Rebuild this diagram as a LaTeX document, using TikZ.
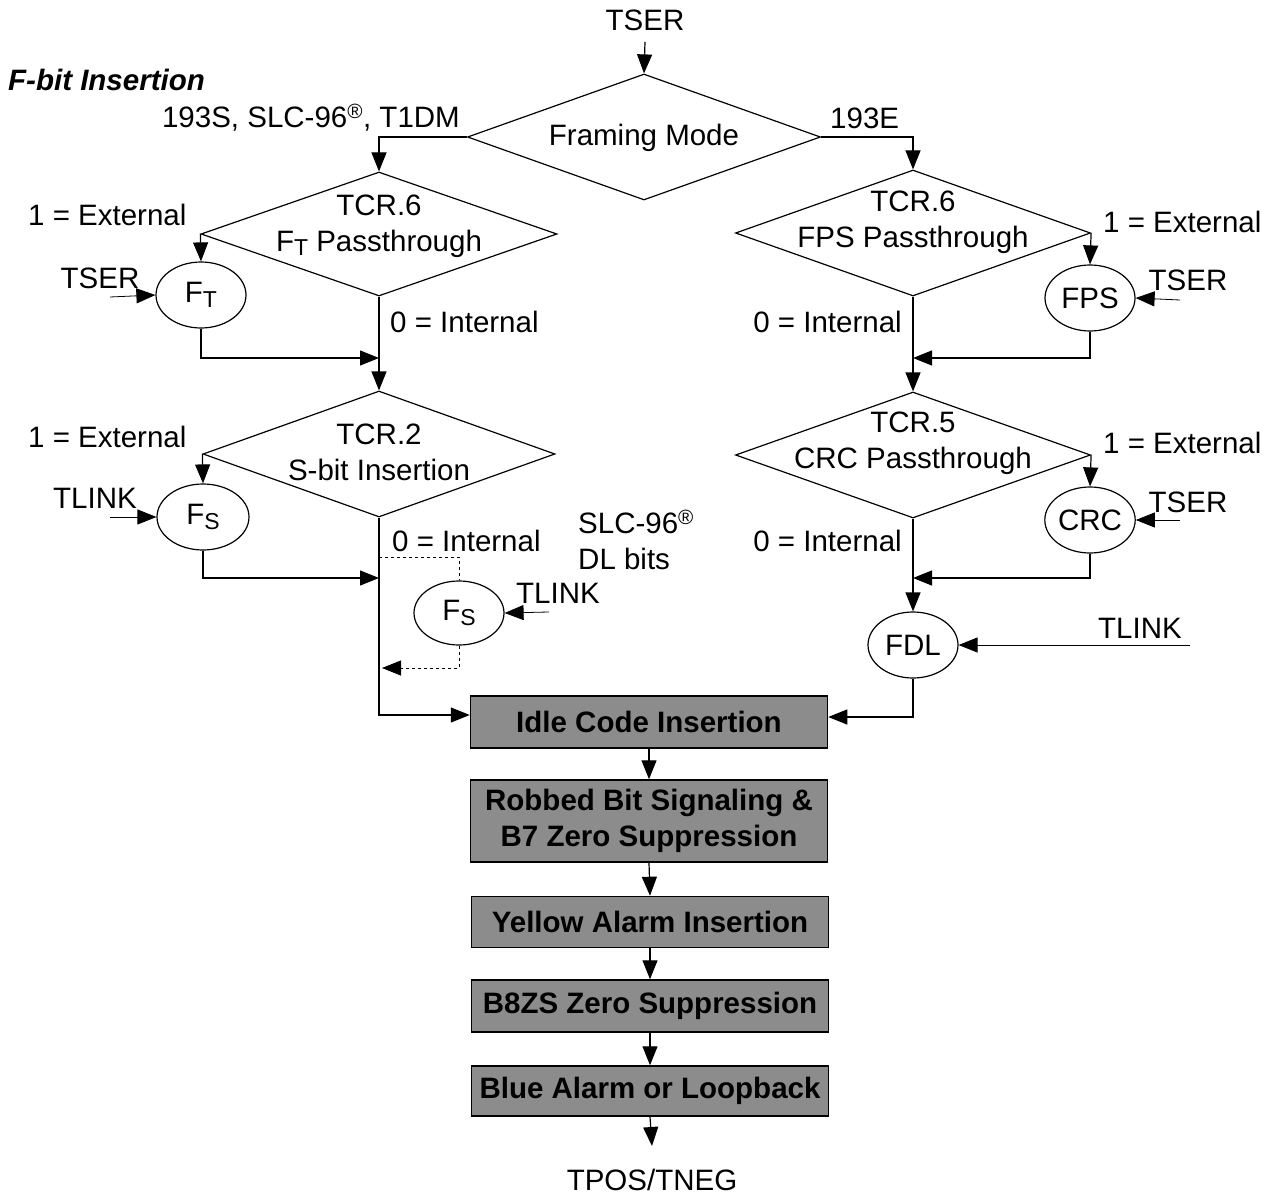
\documentclass[tikz,border=0pt]{standalone}
\usepackage{fontspec}
\setmainfont{Liberation Sans}
\usetikzlibrary{shapes.geometric,arrows.meta}
\newcommand{\fsz}{\fontsize{29.5}{36}\selectfont}
\newcommand{\lowsub}[1]{\raisebox{-0.3ex}{\fontsize{23}{23}\selectfont #1}}
\begin{document}
\begin{tikzpicture}[x=1pt,y=-1pt,
  every node/.style={font=\fsz},
  txt/.style={inner sep=2pt, align=center},
  dia/.style={draw, diamond, line width=1.2pt, inner sep=0pt},
  ell/.style={draw, ellipse, line width=1.2pt, inner sep=0pt, minimum width=90pt, minimum height=66pt},
  gbox/.style={draw, line width=1.5pt, fill=black!45, minimum width=357pt, align=center, inner sep=0pt, font=\fsz\bfseries},
  arr/.style={-{Triangle[length=19pt,width=15pt]}, line width=1.2pt},
  thinarr/.style={-{Triangle[length=19pt,width=15pt]}, line width=0.8pt},
  ln/.style={line width=1.2pt}]
\useasboundingbox (0,0) rectangle (1277,1198);

% title
\node[txt, anchor=west, font=\fsz\bfseries\itshape] (title) at (6,80) {F-bit Insertion};

% top
\node[txt] (tser0) at (645,20) {TSER};
\node[dia, minimum width=353pt, minimum height=126pt] (fm) at (644,137) {};
\node[txt] (fmt) at (644,138) {Framing Mode};
\node[txt, anchor=east] (lab193s) at (462,118) {193S, SLC-96\textsuperscript{\textregistered}, T1DM};
\node[txt, anchor=west] (lab193e) at (828,118) {193E};
\coordinate (tserstart) at (645,42);
\draw[arr] (tserstart) -- (fm.north);

% left TCR.6
\node[dia, minimum width=356pt, minimum height=124pt] (l6) at (379,234) {};
\node[txt] (l6t) at (379,226) {TCR.6\\F\lowsub{T}\ Passthrough};
\draw[arr] (fm.west) -| (l6.north);
\node[ell] (ft) at (201,295) {F\lowsub{T}};
\node[txt, anchor=west] (ext1) at (26,215) {1 = External};
\node[txt] (tserL) at (100,278) {TSER};
\coordinate (tserLin) at (110,297);
\draw[thinarr] (tserLin) -- (ft.west);
\draw[arr] (l6.west) -- (ft.north);
\node[txt, anchor=west] (int1) at (388,322) {0 = Internal};
\coordinate (j1) at (379,358);
\draw[arr] (ft.south) |- (j1);

% left TCR.2
\node[dia, minimum width=352pt, minimum height=126pt] (l2) at (379,454) {};
\node[txt] (l2t) at (379,452) {TCR.2\\S-bit Insertion};
\draw[arr] (l6.south) -- (l2.north);
\node[ell, minimum width=92pt] (fs) at (203,517) {F\lowsub{S}};
\node[txt, anchor=west] (ext2) at (26,437) {1 = External};
\node[txt] (tlinkL) at (95,498) {TLINK};
\coordinate (tlinkLin) at (110,517);
\draw[thinarr] (tlinkLin) -- (fs.west);
\draw[arr] (l2.west) -- (fs.north);
\node[txt, anchor=west] (int2) at (390,541) {0 = Internal};
\coordinate (j2) at (379,578);
\draw[arr] (fs.south) |- (j2);

% dashed SLC-96 loop
\node[ell, minimum height=64pt] (fs2) at (459,613) {F\lowsub{S}};
\node[txt, anchor=west] (tlinkM) at (514,593) {TLINK};
\coordinate (tlinkMin) at (549,612);
\draw[thinarr] (tlinkMin) -- (fs2.east);
\node[txt, anchor=west, align=left] (slc) at (576,540) {SLC-96\textsuperscript{\textregistered}\\DL bits};
\coordinate (d1) at (379,557);
\coordinate (d2) at (382,668);
\draw[dashed, line width=0.9pt] (d1) -| (fs2.north);
\draw[thinarr, dashed] (fs2.south) |- (d2);

% grey boxes
\node[gbox, minimum height=52pt] (idle) at (649,722) {Idle Code Insertion};
\node[gbox, minimum height=82pt] (rbs) at (649,821) {Robbed Bit Signaling \&\\B7 Zero Suppression};
\node[gbox, minimum height=51pt] (yel) at (650,922) {Yellow Alarm Insertion};
\node[gbox, minimum height=52pt] (b8) at (650,1006) {B8ZS Zero Suppression};
\node[gbox, minimum height=50pt] (blue) at (650,1091) {Blue Alarm or Loopback};
\node[txt] (tpos) at (652,1180) {TPOS/TNEG};
\coordinate (tposin) at (652,1146);

\draw[arr] (l2.south) |- ([yshift=7pt]idle.west);

% right TCR.6
\node[dia, minimum width=355pt, minimum height=126pt] (r6) at (913,233) {};
\node[txt] (r6t) at (913,222) {TCR.6\\FPS Passthrough};
\draw[arr] (fm.east) -| (r6.north);
\node[ell] (fps) at (1090,298) {FPS};
\node[txt, anchor=west] (ext3) at (1101,222) {1 = External};
\node[txt] (tserR1) at (1188,280) {TSER};
\coordinate (tserR1in) at (1180,300);
\draw[thinarr] (tserR1in) -- (fps.east);
\draw[arr] (r6.east) -- (fps.north);
\node[txt, anchor=east] (int3) at (904,322) {0 = Internal};
\coordinate (j3) at (913,358);
\draw[arr] (fps.south) |- (j3);

% right TCR.5
\node[dia, minimum width=355pt, minimum height=126pt] (r5) at (913,455) {};
\node[txt] (r5t) at (913,443) {TCR.5\\CRC Passthrough};
\draw[arr] (r6.south) -- (r5.north);
\node[ell] (crc) at (1090,520) {CRC};
\node[txt, anchor=west] (ext4) at (1101,443) {1 = External};
\node[txt] (tserR2) at (1188,502) {TSER};
\coordinate (tserR2in) at (1180,520);
\draw[thinarr] (tserR2in) -- (crc.east);
\draw[arr] (r5.east) -- (crc.north);
\node[txt, anchor=east] (int4) at (904,541) {0 = Internal};
\coordinate (j4) at (913,578);
\draw[arr] (crc.south) |- (j4);

% FDL
\node[ell] (fdl) at (913,645) {FDL};
\node[txt] (tlinkR) at (1140,628) {TLINK};
\coordinate (tlinkRin) at (1190,645);
\draw[thinarr] (tlinkRin) -- (fdl.east);
\draw[arr] (r5.south) -- (fdl.north);
\draw[arr] (fdl.south) |- ([yshift=5pt]idle.east);

% chain
\draw[arr] (idle.south) -- (rbs.north);
\draw[arr] (rbs.south) -- (yel.north);
\draw[arr] (yel.south) -- (b8.north);
\draw[arr] (b8.south) -- (blue.north);
\draw[arr] (blue.south) -- (tposin);
\end{tikzpicture}
\end{document}
